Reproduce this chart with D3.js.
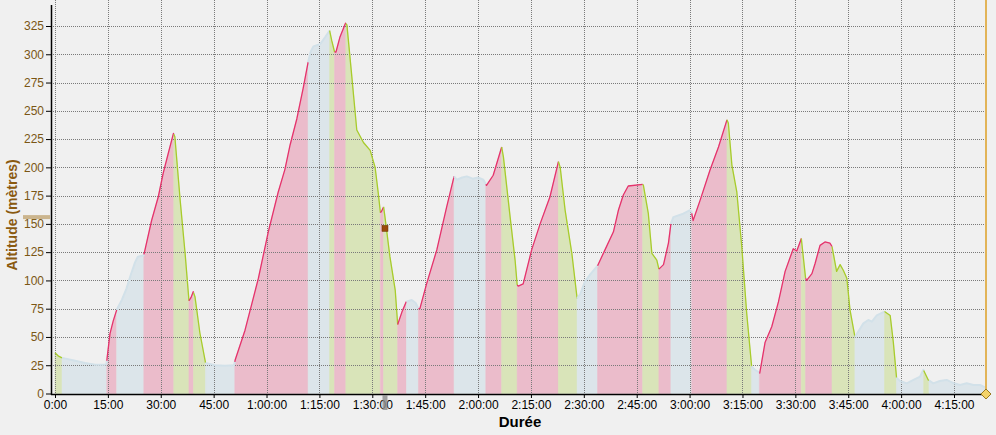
<!DOCTYPE html>
<html><head><meta charset="utf-8">
<script src="https://cdn.jsdelivr.net/npm/d3@7"></script>
<style>
html,body{margin:0;padding:0;background:#f0f0f0;}
svg{display:block;}
text{font-family:"Liberation Sans",Arial,sans-serif;}
</style></head>
<body>
<script>
// ---- data (time in minutes, altitude in metres) ----
const profile = [
[0,36],[1.0,33],[2.0,31.5],[5.7,29],[8.5,27],[11.4,25.5],[14.2,25.5],[14.6,26],[14.8,32],[15.6,53],[16.5,64],[17.5,74],
[19.0,83],[20.3,93],[21.5,105],[22.7,116],[23.5,121],[25.1,122],[25.3,124],[27.4,153],[29.3,174],[30.7,195],[32.1,212],[33.6,230],
[34.0,227],[35.5,171],[36.9,124],[38.0,82],[38.6,85],[39.2,90],[39.7,85.6],[41.1,53.5],[42.7,27],[45.4,25],[48.2,24.5],[50.8,25],
[51.1,29.6],[53.9,56],[57.7,102],[60.5,143],[63.3,178],[65.2,198],[66.7,220],[68.6,243],[70.4,270],[71.8,293],
[72.5,302],[73.3,307],[75.2,309],[76.6,315],[77.9,321],[78.5,312],[79.3,302],[79.7,302],[80.8,315],[82.4,327.5],
[82.8,326],[84.2,280],[85.6,233],[87.5,222],[89.4,215],[90.8,200],[91.7,177],[92.3,160],[92.6,161],[93.2,165],
[93.6,156],[95.0,121],[96.5,91.5],[97.2,61],[98.4,72],[99.6,81],[101.2,82.7],[102.3,80],[103.1,75],
[103.5,75],[105.4,97],[108.3,127],[111.1,165],[113.2,192],[114.0,189],[115.5,191],[116.8,192],[118.5,190],[120.0,191],[121.5,189],[122.2,185],
[122.4,184],[124.3,193],[126.7,218],[127.2,209],[129.1,156],[130.5,118],[131.1,96],
[131.4,95],[132.8,97],[135.2,127],[137.6,150],[140.4,174],[142.8,205],[143.3,200],[144.7,162],[146.6,124],[148.1,84],
[149.0,88],[150.3,99],[152.0,106],[153.9,113],[156.0,127],[158.4,143],[159.8,162],[161.2,175.5],[162.6,183.5],[166.7,185],
[166.9,184],[168.3,159],[169.3,124],[170.7,118],[171.3,110],[172.6,114],[174.0,133],[174.7,150],
[175.4,156],[178.2,159],[180.0,162],[180.5,161],[181.0,153],[183.0,171],[185.8,197.6],[188.2,218],[190.6,242],
[191.0,239],[192.0,202],[193.4,178],[194.8,130],[196.2,71],[197.6,24],[198.5,21],[199.6,19],
[199.9,18],[201.4,45],[203.3,59],[205.2,81],[207.1,108],[209.4,128],[210.4,126],[211.7,137],[212.0,128],[212.9,102],
[213.2,100],[214.7,106],[215.6,115],[217.0,131],[218.4,134],[219.8,133],[220.4,130],
[221.7,108],[222.7,114],[223.6,109],[224.6,102],[225.5,74],[226.9,50],
[229.3,62],[230.7,65],[231.7,63.5],[233.1,69],[235.3,72.5],[236.9,69],[237.8,45],[238.7,14],
[239.7,11],[241.6,9],[243.5,12],[245.4,15],[246.3,21],[247.7,12],
[249.1,9],[251.0,11],[252.9,12],[255.0,9],[256.7,7.5],[258.6,9],[260.5,7.5],[262.4,7.5],[264.1,5]
];
// segment start times (min) and type: "up" climb, "down" descent, "flat"
const segStarts = [0,2.0,14.7,17.5,25.2,33.7,38.0,39.3,42.7,51.0,71.8,77.9,79.3,82.5,92.3,93.2,97.2,99.7,103.1,113.2,
  122.2,126.7,131.1,142.8,148.1,153.9,166.7,171.3,174.7,180.6,190.6,197.6,199.8,211.7,212.9,220.4,226.9,235.3,238.7,246.4,247.9];
const segTypes = ["down","flat","up","flat","up","down","up","down","flat","up","flat","down","up","down","up","down","up","flat","up","flat",
  "up","down","up","down","flat","up","down","up","flat","up","down","flat","up","down","up","down","flat","down","flat","down","flat"];
const endTime = 264.1;
const xTickValues = [0,15,30,45,60,75,90,105,120,135,150,165,180,195,210,225,240,255];
const xTickLabels = ["0:00","15:00","30:00","45:00","1:00:00","1:15:00","1:30:00","1:45:00","2:00:00","2:15:00","2:30:00","2:45:00","3:00:00","3:15:00","3:30:00","3:45:00","4:00:00","4:15:00"];
const yTickValues = [0,25,50,75,100,125,150,175,200,225,250,275,300,325];
const cursorTime = 93.6, cursorAlt = 146;

// ---- styles ----
const fillCol = {up:"#ebbccb", down:"#d9e4b9", flat:"#dce5ea"};
const lineCol = {up:"#e5336c", down:"#a8cc2c", flat:"#d2e1e9"};

const W=996,H=435;
const svg=d3.select("body").append("svg").attr("width",W).attr("height",H);
svg.append("rect").attr("width",W).attr("height",H).attr("fill","#f0f0f0");

const x=d3.scaleLinear().domain([0,255]).range([55,954]);
const y=d3.scaleLinear().domain([0,325]).range([393.5,26]);
const pL=51,pR=986,pT=0,pB=394;

svg.append("clipPath").attr("id","pc").append("rect").attr("x",pL).attr("y",pT).attr("width",pR-pL).attr("height",pB-pT);
const plot=svg.append("g").attr("clip-path","url(#pc)");

function altAt(t){
  for(let i=1;i<profile.length;i++){
    if(profile[i][0]>=t){
      const a=profile[i-1],b=profile[i];
      return a[1]+(b[1]-a[1])*(t-a[0])/(b[0]-a[0]);
    }
  }
  return profile[profile.length-1][1];
}
const segs=segStarts.map((s,i)=>{
  const e=i<segStarts.length-1?segStarts[i+1]:endTime;
  const pts=[[s,altAt(s)]].concat(profile.filter(p=>p[0]>s&&p[0]<e)).concat([[e,altAt(e)]]);
  return {s,e,type:segTypes[i],pts};
});

const area=d3.area().x(d=>x(d[0])).y0(y(0)).y1(d=>y(d[1]));
const line=d3.line().x(d=>x(d[0])).y(d=>y(d[1]));

plot.selectAll("path.f").data(segs).join("path").attr("class","f")
  .attr("d",d=>area(d.pts)).attr("fill",d=>fillCol[d.type]).attr("stroke",d=>fillCol[d.type]).attr("stroke-width",0.6);

// grid
const gg=plot.append("g");
gg.selectAll("line.h").data(yTickValues.filter(v=>v>0)).join("line")
  .attr("x1",pL).attr("x2",pR).attr("y1",d=>Math.round(y(d))+0.5).attr("y2",d=>Math.round(y(d))+0.5)
  .attr("stroke","#7a7a7a").attr("stroke-dasharray","1,1");
gg.selectAll("line.v").data(xTickValues).join("line")
  .attr("y1",pT).attr("y2",pB).attr("x1",d=>Math.round(x(d))+0.5).attr("x2",d=>Math.round(x(d))+0.5)
  .attr("stroke","#7a7a7a").attr("stroke-dasharray","1,1");

plot.selectAll("path.l").data(segs).join("path").attr("class","l")
  .attr("d",d=>line(d.pts)).attr("fill","none").attr("stroke",d=>lineCol[d.type])
  .attr("stroke-width",d=>d.type==="flat"?2:1.3).attr("stroke-linejoin","round");

// right marker line
svg.append("line").attr("x1",pR).attr("x2",pR).attr("y1",0).attr("y2",pB).attr("stroke","#e2b458").attr("stroke-width",2);

// axes
const xAxis=d3.axisBottom(x).tickValues(xTickValues).tickFormat((d,i)=>xTickLabels[i]).tickSize(4).tickSizeOuter(0);
const gx=svg.append("g").attr("transform",`translate(0,${pB})`).call(xAxis);
gx.select(".domain").remove();
gx.selectAll("line").attr("stroke","#000");
gx.selectAll("text").attr("font-size",12).attr("fill","#000").attr("dy","0.72em").attr("y",6);
svg.append("line").attr("x1",pL).attr("x2",pR).attr("y1",pB+0.5).attr("y2",pB+0.5).attr("stroke","#000").attr("stroke-width",1.5);

const yAxis=d3.axisLeft(y).tickValues(yTickValues).tickSize(5).tickSizeOuter(0);
const gy=svg.append("g").attr("transform",`translate(${pL},0)`).call(yAxis);
gy.select(".domain").remove();
gy.selectAll("line").attr("stroke","#000");
gy.selectAll("text").attr("font-size",12).attr("fill","#7a5614").attr("x",-7);
svg.append("line").attr("x1",pL+0.5).attr("x2",pL+0.5).attr("y1",5).attr("y2",pB+1).attr("stroke","#000").attr("stroke-width",1.5);

svg.append("text").attr("transform",`translate(17,215) rotate(-90)`).attr("text-anchor","middle")
  .attr("font-size",14).attr("font-weight","bold").attr("fill","#8a5a10").text("Altitude (mètres)");
svg.append("text").attr("x",520).attr("y",427).attr("text-anchor","middle")
  .attr("font-size",15).attr("font-weight","bold").attr("fill","#000").text("Durée");

// cursor markers
svg.append("rect").attr("x",23).attr("y",y(cursorAlt+10)-2).attr("width",27).attr("height",4).attr("fill","#cbb58e");
svg.append("rect").attr("x",x(cursorTime)-2.5).attr("y",pB+1).attr("width",5).attr("height",15).attr("fill","#8c8c8c").attr("opacity",0.8);
svg.append("rect").attr("x",x(cursorTime)-3).attr("y",y(cursorAlt)-3).attr("width",6).attr("height",6).attr("fill","#9a4a0a").attr("stroke","#6a3000").attr("stroke-width",0.5);
svg.append("path").attr("d",`M${pR},${pB-5} L${pR+5},${pB} L${pR},${pB+5} L${pR-5},${pB} Z`)
  .attr("fill","#f3d36a").attr("stroke","#9a7a20").attr("stroke-width",1);
</script>
</body></html>
